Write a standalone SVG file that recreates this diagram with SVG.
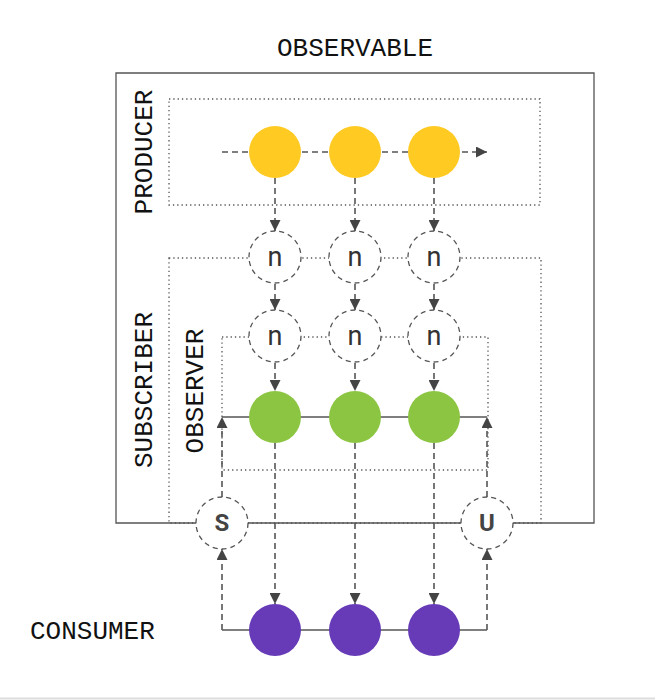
<svg xmlns="http://www.w3.org/2000/svg" width="655" height="700" viewBox="0 0 655 700">
<defs>
<marker id="ah" viewBox="0 0 10 10" refX="10" refY="5" markerWidth="11" markerHeight="11" markerUnits="userSpaceOnUse" orient="auto">
<path d="M0,0 L10,5 L0,10 z" fill="#444"/>
</marker>
</defs>
<style>
.lbl{font-family:"Liberation Mono","DejaVu Sans Mono",monospace;font-size:26px;fill:#111;}
.box{fill:none;stroke:#555;stroke-width:1.3;}
.dot{fill:none;stroke:#555;stroke-width:1.3;stroke-dasharray:1.3 3;}
.dash{fill:none;stroke:#555;stroke-width:1.6;stroke-dasharray:6 4;}
.solid{fill:none;stroke:#555;stroke-width:1.6;}
.ncirc{fill:#fff;stroke:#555;stroke-width:1.3;stroke-dasharray:5 4;}
.ntxt{font-family:Roboto,"Liberation Sans",sans-serif;font-size:27px;fill:#333;text-anchor:middle;}
.btxt{font-family:Roboto,"Liberation Sans",sans-serif;font-size:24px;font-weight:bold;fill:#444;text-anchor:middle;}
.yel{fill:#FFCA22;}
.grn{fill:#8BC541;}
.pur{fill:#673AB7;}
</style>
<rect x="0" y="0" width="655" height="700" fill="#fff"/>
<line x1="0" y1="698.5" x2="655" y2="698.5" stroke="#ddd" stroke-width="2"/>

<g id="labels">
<text class="lbl" x="355" y="56" text-anchor="middle">OBSERVABLE</text>
<text class="lbl" transform="translate(152,152) rotate(-90)" text-anchor="middle">PRODUCER</text>
<text class="lbl" transform="translate(152,390) rotate(-90)" text-anchor="middle">SUBSCRIBER</text>
<text class="lbl" transform="translate(203,391) rotate(-90)" text-anchor="middle">OBSERVER</text>
<text class="lbl" x="30" y="639">CONSUMER</text>
</g>

<g id="containers">
<path class="box" d="M116,523 V73 H594 V523 Z"/>
<rect class="dot" x="169" y="99" width="371" height="106"/>
<rect class="dot" x="169" y="258" width="372" height="265"/>
<rect class="dot" x="222" y="337" width="266" height="133"/>
</g>

<g id="connectors">
<line class="dash" x1="222" y1="152" x2="487" y2="152" marker-end="url(#ah)"/>
<line class="dash" x1="275" y1="178" x2="275" y2="231" marker-end="url(#ah)"/>
<line class="dash" x1="355" y1="178" x2="355" y2="231" marker-end="url(#ah)"/>
<line class="dash" x1="434" y1="178" x2="434" y2="231" marker-end="url(#ah)"/>
<line class="dash" x1="275" y1="284" x2="275" y2="310" marker-end="url(#ah)"/>
<line class="dash" x1="355" y1="284" x2="355" y2="310" marker-end="url(#ah)"/>
<line class="dash" x1="434" y1="284" x2="434" y2="310" marker-end="url(#ah)"/>
<line class="dash" x1="275" y1="363" x2="275" y2="391" marker-end="url(#ah)"/>
<line class="dash" x1="355" y1="363" x2="355" y2="391" marker-end="url(#ah)"/>
<line class="dash" x1="434" y1="363" x2="434" y2="391" marker-end="url(#ah)"/>
<line class="solid" x1="222" y1="417" x2="487" y2="417"/>
<line class="dash" x1="275" y1="443" x2="275" y2="604" marker-end="url(#ah)"/>
<line class="dash" x1="355" y1="443" x2="355" y2="604" marker-end="url(#ah)"/>
<line class="dash" x1="434" y1="443" x2="434" y2="604" marker-end="url(#ah)"/>
<line class="dash" x1="222" y1="497" x2="222" y2="417" marker-end="url(#ah)"/>
<line class="dash" x1="487" y1="497" x2="487" y2="417" marker-end="url(#ah)"/>
<path class="solid" d="M222,630 H487"/>
<line class="dash" x1="222" y1="630" x2="222" y2="549" marker-end="url(#ah)"/>
<line class="dash" x1="487" y1="630" x2="487" y2="549" marker-end="url(#ah)"/>
</g>

<g id="p1"><circle class="yel" cx="275" cy="152" r="26"/></g>
<g id="p2"><circle class="yel" cx="355" cy="152" r="26"/></g>
<g id="p3"><circle class="yel" cx="434" cy="152" r="26"/></g>

<g id="n1a"><circle class="ncirc" cx="275" cy="257" r="26"/><text class="ntxt" x="275" y="266">n</text></g>
<g id="n2a"><circle class="ncirc" cx="355" cy="257" r="26"/><text class="ntxt" x="355" y="266">n</text></g>
<g id="n3a"><circle class="ncirc" cx="434" cy="257" r="26"/><text class="ntxt" x="434" y="266">n</text></g>

<g id="n1b"><circle class="ncirc" cx="275" cy="336" r="26"/><text class="ntxt" x="275" y="345">n</text></g>
<g id="n2b"><circle class="ncirc" cx="355" cy="336" r="26"/><text class="ntxt" x="355" y="345">n</text></g>
<g id="n3b"><circle class="ncirc" cx="434" cy="336" r="26"/><text class="ntxt" x="434" y="345">n</text></g>

<g id="o1"><circle class="grn" cx="275" cy="417" r="26"/></g>
<g id="o2"><circle class="grn" cx="355" cy="417" r="26"/></g>
<g id="o3"><circle class="grn" cx="434" cy="417" r="26"/></g>

<g id="subscribe"><circle class="ncirc" cx="222" cy="523" r="26"/><text class="btxt" x="222" y="531">S</text></g>
<g id="unsubscribe"><circle class="ncirc" cx="487" cy="523" r="26"/><text class="btxt" x="487" y="531">U</text></g>

<g id="c1"><circle class="pur" cx="275" cy="630" r="26"/></g>
<g id="c2"><circle class="pur" cx="355" cy="630" r="26"/></g>
<g id="c3"><circle class="pur" cx="434" cy="630" r="26"/></g>
</svg>
